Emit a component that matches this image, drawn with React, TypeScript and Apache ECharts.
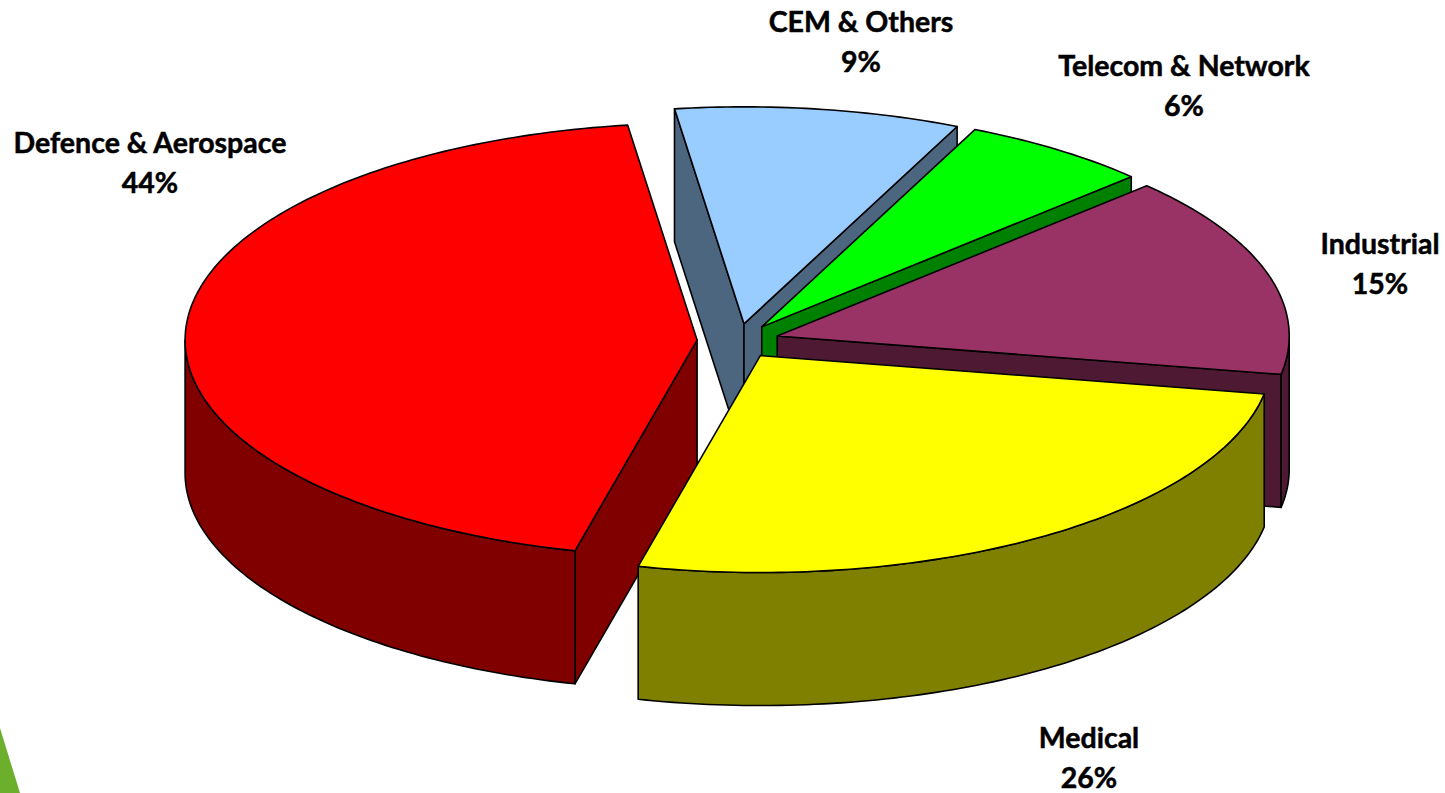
import React, { useEffect, useRef } from "react";
import * as echarts from "echarts";

// Clockwise order round the pie, starting at the left edge of the blue slice.
const categories = ["CEM & Others", "Telecom & Network", "Industrial", "Medical", "Defence & Aerospace"];
const shares = [9, 6, 15, 26, 44];
const topColors = ["#99CCFF", "#00FF00", "#993366", "#FFFF00", "#FF0000"];
const wallColors = ["#4D6680", "#008000", "#4D1933", "#808000", "#800000"];
// Painter's order, back to front.
const drawOrder = [0, 1, 2, 4, 3];

// Pie geometry: angles clockwise on screen from 3 o'clock, in ellipse parameter space.
const PIE = { cx: 738, cy: 341, rx: 512, ry: 217, depth: 133, explode: 0.08, startAngle: 262.2 };
const LABEL_POS: Record<string, [number, number]> = {
  "CEM & Others": [861, 41],
  "Telecom & Network": [1184, 85],
  Industrial: [1380, 263],
  "Defence & Aerospace": [150, 162],
  Medical: [1089, 757],
};

const rad = (d: number) => (d * Math.PI) / 180;

function sliceAngles(index: number) {
  let a = PIE.startAngle;
  for (let i = 0; i < index; i++) a += (shares[i] / 100) * 360;
  return [a, a + (shares[index] / 100) * 360];
}

function renderSlice(_params: any, api: any) {
  const idx = api.value(0);
  const [a0, a1] = sliceAngles(idx);
  const mid = (a0 + a1) / 2;
  const ox = PIE.cx + PIE.explode * PIE.rx * Math.cos(rad(mid));
  const oy = PIE.cy + PIE.explode * PIE.ry * Math.sin(rad(mid));
  const rim = (a: number, dy = 0): [number, number] => [
    ox + PIE.rx * Math.cos(rad(a)),
    oy + PIE.ry * Math.sin(rad(a)) + dy,
  ];
  const arc = (from: number, to: number, dy = 0) => {
    const n = Math.max(2, Math.ceil(Math.abs(to - from)));
    const out: [number, number][] = [];
    for (let i = 0; i <= n; i++) out.push(rim(from + ((to - from) * i) / n, dy));
    return out;
  };
  const line = { stroke: "#000", lineWidth: 1.6, lineJoin: "round" };
  const children: any[] = [];
  const face = (a: number, normal: number) => {
    if (Math.sin(rad(normal)) <= 0) return;
    const e = rim(a);
    children.push({
      type: "polygon",
      shape: { points: [[ox, oy], e, [e[0], e[1] + PIE.depth], [ox, oy + PIE.depth]] },
      style: { fill: wallColors[idx], ...line },
    });
  };
  face(a0, a0 - 90);
  face(a1, a1 + 90);
  // Front-facing part of the outer wall (sin > 0, i.e. 0..180 deg, modulo 360)
  for (const k of [0, 360]) {
    const from = Math.max(a0, k);
    const to = Math.min(a1, k + 180);
    if (to > from) {
      children.push({
        type: "polygon",
        shape: { points: [...arc(from, to), ...arc(to, from, PIE.depth)] },
        style: { fill: wallColors[idx], ...line },
      });
    }
  }
  children.push({
    type: "polygon",
    shape: { points: [[ox, oy], ...arc(a0, a1)] },
    style: { fill: topColors[idx], ...line },
  });
  return { type: "group", children };
}

export default function App() {
  const ref = useRef<HTMLDivElement>(null);
  useEffect(() => {
    const chart = echarts.init(ref.current!, undefined, { renderer: "svg" });
    chart.setOption({
      animation: false,
      backgroundColor: "#fff",
      graphic: [
        {
          type: "polygon",
          shape: { points: [[0, 728], [20, 793], [0, 793]] },
          style: { fill: "#6BAF2C" },
          silent: true,
        },
        ...categories.map((name, i) => ({
          type: "text",
          x: LABEL_POS[name][0],
          y: LABEL_POS[name][1],
          z: 10,
          style: {
            text: `${name}\n${shares[i]}%`,
            fill: "#000",
            stroke: "#000",
            lineWidth: 0.5,
            font: "700 28.5px Lato, 'Noto Sans', sans-serif",
            lineHeight: 40,
            align: "center",
            verticalAlign: "middle",
          },
        })),
      ],
      series: [
        {
          type: "custom",
          coordinateSystem: "none",
          renderItem: renderSlice,
          data: drawOrder.map((i) => ({ name: categories[i], value: [i, shares[i]] })),
          clip: false,
        },
      ],
    });
    return () => chart.dispose();
  }, []);
  return <div ref={ref} style={{ position: "fixed", left: 0, top: 0, width: 1445, height: 793 }} />;
}
